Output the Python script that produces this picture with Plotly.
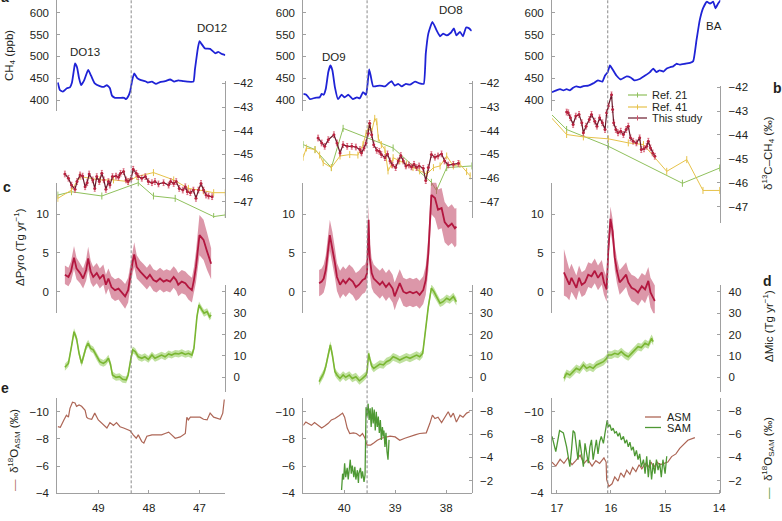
import plotly.graph_objects as go

# ======================= DATA (ages in ka BP) =======================
# ---- Column 1: DO13 - DO12 ----
c1_ch4_age = [49.80, 49.76, 49.70, 49.62, 49.56, 49.52, 49.48, 49.46, 49.42, 49.38, 49.34, 49.28, 49.20, 49.14, 49.07,
              48.97, 48.89, 48.83, 48.77, 48.73, 48.67, 48.57, 48.49, 48.45, 48.41, 48.37, 48.33, 48.29, 48.23, 48.17,
              48.07, 48.02, 47.94, 47.86, 47.78, 47.68, 47.58, 47.50, 47.42, 47.32, 47.24, 47.12, 47.09, 47.03, 47.00,
              46.97, 46.89, 46.79, 46.69, 46.63, 46.55, 46.49]
c1_ch4 = [440, 423, 419, 427, 429, 440, 470, 484, 475, 450, 434, 445, 469, 455, 438,
          432, 430, 434, 427, 410, 405, 405, 405, 402, 408, 420, 445, 461, 450, 446,
          443, 440, 442, 437, 441, 443, 447, 442, 445, 443, 442, 442, 470, 520, 535,
          530, 518, 517, 507, 510, 505, 503]

c1_r21_age = [49.80, 49.53, 48.93, 48.21, 47.91, 47.48, 46.72, 46.49]
c1_r21 = [-46.72, -46.58, -46.76, -46.20, -46.76, -46.86, -47.63, -47.56]
c1_r41_age = [49.80, 49.53, 49.36, 48.97, 48.70, 48.41, 48.24, 47.91, 47.51, 47.22, 46.92, 46.72, 46.49]
c1_r41 = [-46.86, -46.51, -45.94, -46.08, -46.08, -46.15, -45.94, -45.77, -46.08, -46.44, -46.54, -46.62, -46.62]
c1_this_age = [49.66, 49.59, 49.53, 49.46, 49.42, 49.36, 49.31, 49.26, 49.22, 49.18, 49.11, 49.07, 49.03, 48.98, 48.93,
               48.89, 48.85, 48.80, 48.77, 48.72, 48.65, 48.60, 48.56, 48.50, 48.45, 48.41, 48.35, 48.31, 48.25, 48.21,
               48.14, 48.07, 48.01, 47.94, 47.88, 47.81, 47.71, 47.61, 47.57, 47.51, 47.46, 47.40, 47.33, 47.28, 47.24,
               47.18, 47.12, 47.07, 47.02, 46.97, 46.92, 46.87, 46.82, 46.75]
c1_this = [-45.83, -46.01, -46.30, -46.48, -46.15, -45.87, -45.92, -46.37, -46.20, -45.83, -46.08, -46.44, -45.94, -46.15, -45.80,
           -46.08, -46.48, -46.15, -46.30, -45.94, -45.92, -45.97, -45.80, -45.73, -46.08, -46.15, -46.01, -45.63, -45.80, -45.94,
           -46.01, -45.94, -46.15, -46.20, -46.15, -46.25, -46.20, -46.30, -46.15, -46.23, -46.15, -46.44, -46.51, -46.37, -46.58,
           -46.62, -46.51, -46.86, -46.51, -46.23, -46.51, -46.72, -46.76, -46.79]

c1_pyro_age = [49.66, 49.59, 49.54, 49.48, 49.43, 49.36, 49.30, 49.24, 49.20, 49.15, 49.10, 49.03, 48.97, 48.90, 48.85,
               48.80, 48.74, 48.67, 48.60, 48.54, 48.47, 48.41, 48.36, 48.32, 48.29, 48.24, 48.17, 48.11, 48.04, 47.98,
               47.91, 47.85, 47.78, 47.71, 47.65, 47.58, 47.51, 47.46, 47.42, 47.35, 47.28, 47.22, 47.15, 47.11, 47.07,
               47.00, 46.92, 46.85, 46.77]
c1_pyro = [2.2, 1.9, 2.6, 4.4, 3.0, 2.4, 1.7, 2.8, 4.3, 2.6, 1.9, 2.4, 1.7, 2.2, 0.9,
           1.7, 0.6, 0.2, 0.4, 0.0, -0.6, 0.2, 2.4, 3.9, 4.8, 3.2, 2.6, 2.2, 1.7, 2.2,
           1.5, 1.3, 1.7, 1.3, 1.5, 1.3, 1.9, 1.5, 0.9, 1.3, 1.1, 0.6, 0.2, 1.5, 3.2,
           7.3, 6.7, 5.2, 3.6]
c1_pyro_err = [1.2, 1.2, 1.3, 1.5, 1.4, 1.3, 1.3, 1.4, 1.5, 1.4, 1.3, 1.3, 1.3, 1.3, 1.3,
               1.3, 1.4, 1.4, 1.4, 1.5, 1.6, 1.6, 1.5, 1.5, 1.6, 1.5, 1.4, 1.4, 1.4, 1.4,
               1.4, 1.4, 1.4, 1.4, 1.4, 1.4, 1.4, 1.4, 1.5, 1.5, 1.5, 1.6, 1.6, 1.7, 2.0,
               2.6, 2.6, 2.4, 2.0]

c1_mic_age = [49.66, 49.59, 49.53, 49.48, 49.43, 49.38, 49.33, 49.28, 49.24, 49.20, 49.15, 49.10, 49.03, 48.97, 48.90,
              48.85, 48.80, 48.76, 48.72, 48.65, 48.58, 48.52, 48.45, 48.41, 48.36, 48.32, 48.27, 48.21, 48.14, 48.08,
              48.01, 47.94, 47.88, 47.81, 47.75, 47.68, 47.61, 47.55, 47.48, 47.41, 47.35, 47.28, 47.22, 47.15, 47.11,
              47.05, 47.01, 46.95, 46.91, 46.85, 46.80, 46.77]
c1_mic = [4.7, 6.5, 14.3, 21.3, 18.2, 11.2, 6.5, 11.2, 14.3, 15.9, 13.5, 12.8, 9.6, 7.3, 6.5,
          7.3, 8.9, 6.2, 1.1, 0.0, 0.3, -0.9, -1.2, 1.1, 8.1, 12.8, 12.0, 9.6, 8.9, 9.6,
          8.4, 10.4, 8.9, 9.6, 10.4, 9.6, 10.9, 10.4, 11.2, 10.9, 11.5, 10.7, 11.2, 10.4, 13.5,
          28.3, 33.8, 31.4, 29.9, 30.7, 28.3, 29.1]
c1_mic_err = 1.6

c1_asm_age = [49.80, 49.75, 49.68, 49.63, 49.59, 49.56, 49.51, 49.46, 49.43, 49.38, 49.33, 49.26, 49.23, 49.20, 49.13,
              49.07, 49.00, 48.93, 48.87, 48.83, 48.77, 48.70, 48.64, 48.57, 48.50, 48.44, 48.37, 48.31, 48.25, 48.21,
              48.14, 48.10, 48.04, 47.94, 47.84, 47.75, 47.68, 47.61, 47.55, 47.48, 47.38, 47.28, 47.25, 47.22, 47.18,
              47.09, 46.99, 46.92, 46.85, 46.79, 46.72, 46.59, 46.54, 46.51]
c1_asm = [-8.9, -8.85, -9.4, -9.75, -9.6, -10.25, -10.7, -10.65, -10.4, -10.5, -10.4, -10.1, -9.6, -9.5, -9.45,
          -9.9, -9.4, -9.15, -9.0, -8.8, -9.2, -9.0, -9.2, -8.9, -8.8, -8.7, -8.6, -8.3, -8.05, -8.3,
          -7.8, -7.7, -8.2, -8.3, -8.3, -8.3, -8.4, -8.5, -8.3, -8.05, -8.15, -8.4, -9.6, -9.4, -9.6,
          -9.6, -9.6, -9.45, -9.4, -9.9, -9.6, -9.45, -9.9, -10.9]

# ---- Column 2: DO9 - DO8 ----
c2_ch4_age = [40.80, 40.74, 40.67, 40.57, 40.48, 40.44, 40.40, 40.36, 40.31, 40.27, 40.23, 40.18, 40.12, 40.05, 39.99,
              39.92, 39.83, 39.75, 39.69, 39.63, 39.57, 39.54, 39.51, 39.48, 39.43, 39.30, 39.20, 39.14, 39.07, 39.01,
              38.94, 38.87, 38.79, 38.71, 38.61, 38.52, 38.44, 38.40, 38.35, 38.27, 38.19, 38.12, 38.06, 37.99, 37.91,
              37.85, 37.80, 37.73, 37.67, 37.61, 37.55, 37.50]
c2_ch4 = [414, 412, 402, 405, 406, 414, 412, 425, 464, 479, 468, 429, 402, 412, 406,
          412, 402, 406, 404, 418, 412, 437, 470, 456, 431, 433, 431, 437, 443, 433,
          437, 431, 437, 435, 442, 438, 437, 506, 552, 579, 560, 546, 552, 548, 554,
          564, 548, 556, 546, 566, 564, 558]

c2_r21_age = [40.80, 40.57, 40.25, 40.02, 39.04, 38.29, 38.19, 37.99, 37.50]
c2_r21 = [-44.59, -44.80, -45.56, -43.90, -44.73, -46.18, -46.53, -45.56, -45.49]
c2_r41_age = [40.80, 40.74, 40.57, 40.48, 40.41, 40.25, 40.08, 39.89, 39.73, 39.63, 39.57, 39.53, 39.46, 39.40, 39.36,
              39.33, 39.27, 39.20, 39.14, 39.07, 39.04, 38.91, 38.78, 38.65, 38.52, 38.38, 38.25, 38.12, 37.99, 37.86,
              37.73, 37.60, 37.53]
c2_r41 = [-45.12, -44.73, -44.80, -45.03, -45.35, -45.56, -45.07, -45.01, -45.03, -44.59, -44.11, -43.90, -44.04, -43.48, -43.62,
          -44.31, -44.59, -44.80, -45.70, -45.42, -45.14, -45.28, -45.42, -45.56, -45.70, -45.84, -45.56, -45.49, -45.07, -45.49,
          -45.42, -45.73, -45.91]
c2_this_age = [40.51, 40.44, 40.38, 40.31, 40.20, 40.14, 40.08, 40.02, 39.94, 39.85, 39.77, 39.69, 39.66, 39.61, 39.57,
               39.53, 39.50, 39.46, 39.42, 39.36, 39.31, 39.27, 39.20, 39.15, 39.10, 39.05, 38.99, 38.94, 38.89, 38.84,
               38.79, 38.73, 38.68, 38.63, 38.58, 38.53, 38.45, 38.40, 38.35, 38.29, 38.22, 38.16, 38.09, 38.03, 37.96,
               37.86, 37.76]
c2_this = [-44.31, -44.52, -44.66, -44.38, -44.17, -44.52, -44.94, -44.59, -44.66, -44.66, -44.69, -44.80, -44.94, -44.73, -44.52,
           -44.11, -43.69, -44.17, -44.59, -44.83, -44.87, -45.01, -45.14, -44.98, -45.28, -45.45, -45.56, -45.28, -45.05, -45.28,
           -45.49, -45.45, -45.53, -45.42, -45.56, -45.49, -45.59, -46.11, -45.56, -45.01, -45.12, -45.07, -44.98, -45.28, -45.45,
           -45.42, -45.38]

c2_pyro_age = [40.49, 40.44, 40.40, 40.36, 40.28, 40.23, 40.18, 40.14, 40.08, 40.02, 39.97, 39.90, 39.83, 39.77, 39.71,
               39.64, 39.59, 39.55, 39.52, 39.50, 39.46, 39.42, 39.36, 39.30, 39.25, 39.18, 39.12, 39.05, 39.01, 38.96,
               38.91, 38.84, 38.78, 38.71, 38.65, 38.58, 38.52, 38.45, 38.40, 38.35, 38.29, 38.22, 38.16, 38.09, 38.03,
               37.96, 37.89, 37.83, 37.80]
c2_pyro = [1.1, 1.3, 1.7, 2.8, 7.3, 5.7, 3.7, 1.9, 0.9, 1.5, 1.1, 1.7, 1.3, 0.6, 0.9,
           1.5, 1.7, 2.4, 9.3, 4.5, 2.4, 1.7, 1.3, 0.9, 1.3, 0.6, 1.1, 0.4, -0.6, 0.4,
           1.1, 0.0, -0.2, 0.0, -0.2, 0.0, -0.4, 0.2, 1.5, 4.9, 12.5, 12.1, 10.6, 10.8, 9.0,
           8.4, 8.8, 8.2, 8.4]
c2_pyro_err = [1.7, 1.7, 1.8, 1.9, 2.0, 2.0, 1.9, 1.8, 1.8, 1.8, 1.8, 1.8, 1.8, 1.8, 1.8,
               1.8, 1.8, 1.9, 2.0, 2.0, 1.9, 1.8, 1.8, 1.8, 1.8, 1.8, 1.8, 1.8, 1.8, 1.8,
               1.8, 1.8, 1.8, 1.8, 1.8, 1.8, 1.8, 1.8, 1.9, 2.2, 2.5, 2.6, 2.6, 2.6, 2.6,
               2.5, 2.5, 2.5, 2.4]

c2_mic_age = [40.49, 40.44, 40.40, 40.36, 40.31, 40.27, 40.23, 40.18, 40.14, 40.08, 40.02, 39.97, 39.90, 39.84, 39.77,
              39.70, 39.64, 39.57, 39.55, 39.52, 39.50, 39.46, 39.42, 39.36, 39.30, 39.23, 39.17, 39.10, 39.04, 38.97,
              38.91, 38.84, 38.78, 38.71, 38.65, 38.58, 38.52, 38.46, 38.42, 38.35, 38.29, 38.24, 38.19, 38.12, 38.06,
              37.99, 37.93, 37.86, 37.80]
c2_mic = [-2.0, 0.3, 1.9, 5.0, 11.2, 15.1, 10.4, 2.6, 1.1, -0.5, 1.1, 0.0, 1.1, -0.5, 0.3,
          -1.6, -0.5, 1.1, 2.6, 11.2, 8.9, 5.3, 4.2, 5.3, 6.2, 5.8, 7.3, 8.1, 9.6, 8.9,
          8.1, 8.9, 9.6, 8.9, 9.6, 10.4, 9.6, 11.2, 19.0, 33.0, 41.6, 40.0, 37.7, 34.6, 35.3,
          36.9, 36.1, 37.7, 35.3]
c2_mic_err = 1.8

c2_asm_age = [40.80, 40.75, 40.71, 40.64, 40.58, 40.51, 40.44, 40.38, 40.31, 40.25, 40.18, 40.10, 40.03, 39.99, 39.94,
              39.89, 39.82, 39.76, 39.69, 39.64, 39.59, 39.55, 39.48, 39.42, 39.35, 39.27, 39.18, 39.10, 39.00, 38.91,
              38.81, 38.71, 38.61, 38.52, 38.45, 38.39, 38.32, 38.27, 38.22, 38.16, 38.09, 38.03, 37.96, 37.91, 37.86,
              37.80, 37.73, 37.67, 37.60, 37.54]
c2_asm = [-9.0, -9.25, -9.15, -9.0, -9.2, -9.0, -8.8, -8.95, -9.15, -9.4, -9.5, -9.7, -9.9, -9.6, -8.8,
          -8.4, -8.45, -8.4, -8.2, -8.4, -8.05, -7.55, -7.55, -7.7, -7.9, -8.05, -8.15, -8.2, -8.15, -7.9,
          -8.05, -8.2, -8.3, -8.4, -8.45, -8.45, -9.15, -9.75, -9.5, -9.6, -9.2, -9.6, -10.0, -9.6, -9.9,
          -9.25, -9.75, -9.6, -9.9, -10.0]
c2_sam_age = [40.05, 40.03, 40.01, 39.99, 39.97, 39.94, 39.92, 39.90, 39.88, 39.86, 39.84, 39.81, 39.79, 39.77, 39.74,
              39.72, 39.71, 39.68, 39.66, 39.64, 39.61, 39.59, 39.58, 39.57, 39.55, 39.53, 39.51, 39.49, 39.47, 39.45,
              39.43, 39.41, 39.39, 39.37, 39.35, 39.33, 39.31, 39.29, 39.27, 39.25, 39.23, 39.22, 39.20, 39.18, 39.16,
              39.14, 39.12]
c2_sam = [-1.2, -2.6, -2.1, -3.5, -2.3, -3.1, -2.1, -2.9, -3.8, -2.6, -3.3, -2.3, -3.2, -2.1, -2.9,
          -1.8, -2.6, -3.1, -2.2, -2.8, -1.9, -2.5, -4.9, -8.3, -7.5, -8.6, -7.2, -8.2, -6.6, -8.3,
          -6.9, -8.1, -6.3, -7.9, -6.6, -7.5, -6.1, -7.2, -5.5, -6.6, -5.8, -6.3, -4.9, -6.1, -4.5,
          -3.8, -5.5]

# ---- Column 3: HS1 - Bolling-Allerod ----
c3_ch4_age = [17.09, 17.01, 16.94, 16.88, 16.82, 16.76, 16.70, 16.64, 16.57, 16.51, 16.42, 16.33, 16.24, 16.16, 16.11,
              16.06, 16.02, 15.96, 15.90, 15.82, 15.71, 15.63, 15.57, 15.47, 15.37, 15.28, 15.22, 15.16, 15.10, 15.03,
              14.97, 14.91, 14.85, 14.79, 14.73, 14.63, 14.54, 14.48, 14.42, 14.36, 14.30, 14.23, 14.17, 14.11, 14.07,
              14.02, 13.97]
c3_ch4 = [418, 422, 425, 422, 425, 422, 428, 431, 429, 432, 433, 438, 445, 442, 456,
          464, 479, 468, 456, 447, 454, 451, 445, 448, 456, 464, 472, 464, 468, 465,
          472, 475, 477, 483, 481, 483, 485, 489, 537, 583, 610, 625, 621, 625, 610,
          621, 629]

c3_r21_age = [17.10, 16.82, 16.05, 14.68, 13.99]
c3_r21 = [-43.14, -43.77, -44.47, -46.02, -45.38]
c3_r41_age = [17.10, 16.82, 16.51, 16.05, 15.68, 15.40, 14.97, 14.60, 14.30, 13.99]
c3_r41 = [-43.28, -43.98, -44.08, -44.16, -44.33, -44.40, -45.52, -45.03, -46.32, -46.32]
c3_this_age = [16.82, 16.79, 16.75, 16.70, 16.65, 16.59, 16.54, 16.51, 16.46, 16.40, 16.36, 16.30, 16.26, 16.21, 16.16,
               16.11, 16.08, 16.05, 15.99, 15.97, 15.95, 15.91, 15.87, 15.82, 15.77, 15.72, 15.68, 15.64, 15.59, 15.53,
               15.47, 15.44, 15.39, 15.34, 15.31, 15.27, 15.23, 15.19]
c3_this = [-43.04, -43.07, -43.28, -43.56, -43.21, -43.14, -43.49, -43.91, -43.63, -43.35, -43.14, -43.42, -43.63, -43.28, -43.49,
           -43.77, -43.07, -42.79, -42.32, -42.93, -43.49, -43.77, -43.91, -43.84, -43.98, -43.77, -43.63, -44.12, -44.26, -44.33,
           -44.12, -44.61, -44.58, -44.47, -44.26, -44.54, -44.75, -44.89]

c3_pyro_age = [16.87, 16.82, 16.77, 16.73, 16.69, 16.64, 16.59, 16.54, 16.48, 16.42, 16.36, 16.30, 16.24, 16.17, 16.13,
               16.08, 16.05, 16.01, 15.97, 15.93, 15.89, 15.84, 15.79, 15.72, 15.68, 15.62, 15.56, 15.50, 15.43, 15.37,
               15.31, 15.27, 15.22, 15.19]
c3_pyro = [2.5, 1.8, 0.9, 1.8, 1.2, 0.5, 1.8, 0.9, 1.2, 2.2, 2.0, 2.7, 1.8, 2.5, 1.2,
           0.3, 5.3, 9.4, 7.8, 4.4, 2.7, 1.2, 1.6, 2.2, 1.2, 0.5, 0.3, -0.1, 0.7, 0.3,
           1.4, -0.1, -0.8, -1.2]
c3_pyro_err = [3.0, 2.5, 2.0, 1.8, 1.7, 1.6, 1.6, 1.6, 1.6, 1.6, 1.6, 1.6, 1.6, 1.6, 1.6,
               1.6, 1.6, 1.6, 1.6, 1.6, 1.6, 1.6, 1.6, 1.6, 1.6, 1.7, 1.7, 1.7, 1.7, 1.8,
               1.8, 1.9, 2.0, 2.0]

c3_mic_age = [16.87, 16.82, 16.76, 16.70, 16.64, 16.58, 16.51, 16.45, 16.39, 16.33, 16.27, 16.21, 16.14, 16.08, 16.05,
              15.99, 15.93, 15.87, 15.81, 15.74, 15.68, 15.62, 15.56, 15.50, 15.44, 15.37, 15.31, 15.25, 15.22]
c3_mic = [-0.5, 1.9, 1.1, 2.6, 4.2, 3.4, 5.8, 4.2, 5.0, 4.2, 5.8, 6.5, 7.3, 8.9, 10.4,
          10.4, 11.2, 10.7, 12.0, 10.4, 9.6, 11.2, 12.8, 14.3, 13.9, 15.9, 15.1, 18.2, 16.7]
c3_mic_err = 1.8

c3_asm_age = [17.09, 17.02, 16.94, 16.87, 16.80, 16.72, 16.65, 16.57, 16.50, 16.43, 16.35, 16.28, 16.21, 16.13, 16.09,
              16.08, 16.04, 15.98, 15.93, 15.87, 15.82, 15.76, 15.71, 15.65, 15.60, 15.54, 15.48, 15.43, 15.37, 15.32,
              15.26, 15.21, 15.15, 15.10, 15.02, 14.95, 14.88, 14.80, 14.73, 14.65, 14.58, 14.45]
c3_asm = [-6.3, -6.0, -6.5, -6.2, -6.6, -6.1, -6.4, -6.8, -6.2, -6.5, -6.0, -6.4, -6.2, -6.6, -6.3,
          -5.0, -4.5, -4.7, -5.2, -4.9, -5.5, -5.2, -5.7, -5.4, -5.9, -5.6, -6.1, -5.8, -6.2, -5.9,
          -6.3, -5.9, -6.3, -6.1, -6.2, -6.3, -6.7, -6.9, -7.3, -7.6, -7.9, -8.1]
c3_sam_age = [17.09, 17.02, 16.95, 16.88, 16.82, 16.76, 16.73, 16.70, 16.67, 16.64, 16.61, 16.58, 16.54, 16.51, 16.48,
              16.45, 16.42, 16.39, 16.36, 16.33, 16.30, 16.27, 16.24, 16.21, 16.18, 16.14, 16.11, 16.09, 16.07, 16.05,
              16.02, 15.99, 15.96, 15.93, 15.90, 15.87, 15.84, 15.81, 15.77, 15.74, 15.71, 15.68, 15.65, 15.62, 15.59,
              15.56, 15.53, 15.50, 15.47, 15.44, 15.40, 15.37, 15.34, 15.31, 15.28, 15.25, 15.22, 15.19, 15.16, 15.13,
              15.10, 15.07, 15.04, 15.00, 14.97]
c3_sam = [-5.8, -4.5, -6.3, -6.1, -4.9, -3.2, -4.6, -6.3, -6.1, -4.9, -3.8, -5.5, -4.1, -3.2, -5.2,
          -4.3, -3.5, -4.9, -5.5, -3.8, -4.9, -5.5, -4.3, -5.3, -5.8, -5.2, -6.1, -6.9, -7.2, -6.6,
          -6.8, -6.3, -6.5, -6.1, -6.2, -5.8, -6.1, -5.5, -5.8, -5.2, -5.5, -4.9, -5.3, -4.6, -4.9,
          -4.1, -4.6, -3.8, -4.3, -3.2, -3.8, -2.6, -4.1, -2.3, -3.8, -2.1, -3.5, -2.6, -3.8, -2.9,
          -3.5, -2.3, -3.8, -2.6, -4.1]

# ---- ticks / events ----
x_ticks = [[49, 48, 47], [40, 39, 38], [17, 16, 15, 14]]
ch4_ticks = [400, 450, 500, 550, 600]
d13c_ticks = [-47, -46, -45, -44, -43, -42]
pyro_ticks = [0, 5, 10]
mic_ticks = [0, 10, 20, 30, 40]
asm_ticks = [-10, -8, -6, -4]
sam_ticks = [-8, -6, -4, -2]
heinrich_age = [48.35, 39.55, 16.06]
event_names = ["DO13", "DO12", "DO9", "DO8", "BA"]

# ======================= STYLE / LAYOUT =======================
W, H = 782, 521
FONT = "Liberation Sans, Arial, Helvetica, sans-serif"
TXT = "#231f20"
AXC = "#a0a0a0"
FS = 11.5
C_CH4 = "#1f23d6"
C_THIS_LINE = "#6a1a2c"
C_THIS_MK = "#d4506a"
C_R21 = "#8fc05c"
C_R41 = "#e6c24a"
C_PYRO = "#b3173f"
C_PYRO_BAND = "rgba(196,82,112,0.6)"
C_MIC = "#7ab632"
C_MIC_BAND = "rgba(140,200,80,0.55)"
C_ASM = "#ad6656"
C_SAM = "#4e9834"


def px(x):
    return x / W


def py(y):
    return 1 - y / H


def fmt(v):
    return f"{v:g}".replace("-", "\u2212")


def yid(n):
    return "y" if n == 1 else f"y{n}"


def ykey(n):
    return "yaxis" if n == 1 else f"yaxis{n}"


COLS = [
    dict(ch4=(c1_ch4_age, c1_ch4), r21=(c1_r21_age, c1_r21), r41=(c1_r41_age, c1_r41),
         this=(c1_this_age, c1_this), pyro=(c1_pyro_age, c1_pyro, c1_pyro_err),
         mic=(c1_mic_age, c1_mic, c1_mic_err), asm=(c1_asm_age, c1_asm), sam=None),
    dict(ch4=(c2_ch4_age, c2_ch4), r21=(c2_r21_age, c2_r21), r41=(c2_r41_age, c2_r41),
         this=(c2_this_age, c2_this), pyro=(c2_pyro_age, c2_pyro, c2_pyro_err),
         mic=(c2_mic_age, c2_mic, c2_mic_err), asm=(c2_asm_age, c2_asm), sam=(c2_sam_age, c2_sam)),
    dict(ch4=(c3_ch4_age, c3_ch4), r21=(c3_r21_age, c3_r21), r41=(c3_r41_age, c3_r41),
         this=(c3_this_age, c3_this), pyro=(c3_pyro_age, c3_pyro, c3_pyro_err),
         mic=(c3_mic_age, c3_mic, c3_mic_err), asm=(c3_asm_age, c3_asm), sam=(c3_sam_age, c3_sam)),
]

GEOM = [
    dict(x0=57.3, x1=225.3, xr=[49.81, 46.49], b=(81, 218), brng=[-47.69, -41.9]),
    dict(x0=303.3, x1=471.7, xr=[40.80, 37.50], b=(81, 218), brng=[-47.69, -41.9]),
    dict(x0=552.0, x1=720.3, xr=[17.09, 13.98], b=(86, 222.7), brng=[-47.67, -41.95]),
]

EVENT_POS = [(0, 49.26, 510), (0, 46.75, 565), (1, 40.20, 498), (1, 37.91, 606), (2, 14.10, 569)]


def axis_common(tickvals, standoff=5):
    return dict(showline=True, linecolor=AXC, linewidth=1, ticks="inside", ticklen=3, tickwidth=1,
                tickcolor=AXC, tickmode="array", tickvals=tickvals, ticktext=[fmt(v) for v in tickvals],
                tickfont=dict(family=FONT, size=FS, color=TXT), showgrid=False, zeroline=False,
                ticklabelstandoff=standoff, fixedrange=True)


fig = go.Figure()
layout = dict(width=W, height=H, autosize=False, margin=dict(l=0, r=0, t=0, b=0),
              paper_bgcolor="white", plot_bgcolor="rgba(0,0,0,0)", showlegend=False,
              template="none", font=dict(family=FONT, size=FS, color=TXT))
shapes = []
annotations = []

for i, (d, g) in enumerate(zip(COLS, GEOM)):
    xid = "x" if i == 0 else f"x{i + 1}"
    xkey = "xaxis" if i == 0 else f"xaxis{i + 1}"
    n = [6 * i + k for k in range(1, 7)]
    y_ch4, y_d13, y_pyro, y_mic, y_asm, y_sam = [yid(k) for k in n]

    layout[xkey] = dict(axis_common(x_ticks[i], 4), domain=[px(g["x0"]), px(g["x1"])],
                        range=g["xr"], anchor=y_asm)
    layout[ykey(n[0])] = dict(axis_common(ch4_ticks), domain=[py(110.7), py(0)],
                              range=[375.5, 629], anchor=xid, side="left")
    layout[ykey(n[1])] = dict(axis_common(d13c_ticks), domain=[py(g["b"][1]), py(g["b"][0])],
                              range=g["brng"], anchor=xid, side="right")
    layout[ykey(n[2])] = dict(axis_common(pyro_ticks), domain=[py(313.3), py(182.7)],
                              range=[-2.79, 14.08], anchor=xid, side="left")
    layout[ykey(n[3])] = dict(axis_common(mic_ticks), domain=[py(391.7), py(285)],
                              range=[-6.7, 43.1], anchor=xid, side="right")
    layout[ykey(n[4])] = dict(axis_common(asm_ticks), domain=[py(493.3), py(398.3)],
                              range=[-4.0, -10.99], anchor=xid, side="left")
    layout[ykey(n[5])] = dict(axis_common(sam_ticks), domain=[py(493.3), py(398.3)],
                              range=[-0.92, -9.06], anchor=xid, side="right")

    # CH4
    fig.add_trace(go.Scatter(x=d["ch4"][0], y=d["ch4"][1], mode="lines", xaxis=xid, yaxis=y_ch4,
                             line=dict(color=C_CH4, width=1.8, shape="spline", smoothing=0.4)))
    # d13C references + this study
    fig.add_trace(go.Scatter(x=d["r21"][0], y=d["r21"][1], mode="lines+markers", xaxis=xid, yaxis=y_d13,
                             line=dict(color=C_R21, width=1),
                             marker=dict(symbol="line-ns", size=5, line=dict(color=C_R21, width=1))))
    fig.add_trace(go.Scatter(x=d["r41"][0], y=d["r41"][1], mode="lines+markers", xaxis=xid, yaxis=y_d13,
                             line=dict(color=C_R41, width=1),
                             marker=dict(symbol="line-ns", size=5, line=dict(color=C_R41, width=1))))
    fig.add_trace(go.Scatter(x=d["this"][0], y=d["this"][1], mode="lines+markers", xaxis=xid, yaxis=y_d13,
                             line=dict(color=C_THIS_LINE, width=1.2),
                             marker=dict(color="#b8233f", size=3),
                             error_y=dict(type="constant", value=0.12, color=C_THIS_MK, thickness=0.8, width=1)))
    # Pyro band + line
    a, v, e = d["pyro"]
    up = [vv + ee for vv, ee in zip(v, e)]
    lo = [vv - ee for vv, ee in zip(v, e)]
    fig.add_trace(go.Scatter(x=list(a) + list(a)[::-1], y=up + lo[::-1], mode="lines", fill="toself",
                             fillcolor=C_PYRO_BAND, line=dict(width=0), xaxis=xid, yaxis=y_pyro,
                             hoverinfo="skip"))
    fig.add_trace(go.Scatter(x=a, y=v, mode="lines", xaxis=xid, yaxis=y_pyro,
                             line=dict(color=C_PYRO, width=1.8)))
    # Mic band + line
    a, v, e = d["mic"]
    up = [vv + e for vv in v]
    lo = [vv - e for vv in v]
    fig.add_trace(go.Scatter(x=list(a) + list(a)[::-1], y=up + lo[::-1], mode="lines", fill="toself",
                             fillcolor=C_MIC_BAND, line=dict(width=0), xaxis=xid, yaxis=y_mic,
                             hoverinfo="skip"))
    fig.add_trace(go.Scatter(x=a, y=v, mode="lines", xaxis=xid, yaxis=y_mic,
                             line=dict(color=C_MIC, width=1.6)))
    # d18O
    fig.add_trace(go.Scatter(x=d["asm"][0], y=d["asm"][1], mode="lines", xaxis=xid, yaxis=y_asm,
                             line=dict(color=C_ASM, width=1.2)))
    if d["sam"] is not None:
        fig.add_trace(go.Scatter(x=d["sam"][0], y=d["sam"][1], mode="lines", xaxis=xid, yaxis=y_sam,
                                 line=dict(color=C_SAM, width=1.3)))

    # Heinrich dashed line
    shapes.append(dict(type="line", xref=xid, yref="paper", x0=heinrich_age[i], x1=heinrich_age[i],
                       y0=py(493.3), y1=1.0, line=dict(color="#8a8a8a", width=1, dash="3px,2px")))

# event labels
for name, (ci, ex, ey) in zip(event_names, EVENT_POS):
    annotations.append(dict(text=name, xref="x" if ci == 0 else f"x{ci + 1}", yref=yid(6 * ci + 1),
                            x=ex, y=ey, showarrow=False, font=dict(family=FONT, size=FS, color=TXT)))


def ann(text, x, y, angle=0, size=FS, xanchor="center", color=TXT):
    annotations.append(dict(text=text, xref="paper", yref="paper", x=px(x), y=py(y), textangle=angle,
                            showarrow=False, xanchor=xanchor, yanchor="middle",
                            font=dict(family=FONT, size=size, color=color)))


# axis titles
ann("CH<sub>4</sub> (ppb)", 10, 56, -90)
ann("\u0394Pyro (Tg yr<sup>\u22121</sup>)", 19, 247, -90)
ann(f'<span style="color:{C_ASM}">\u2014</span>  \u03b4<sup>18</sup>O<sub>ASM</sub> (\u2030)', 14, 450, -90)
ann("\u03b4<sup>13</sup>C\u2013CH<sub>4</sub> (\u2030)", 768, 153, -90)
ann("\u0394Mic (Tg yr<sup>\u22121</sup>)", 768, 326, -90)
ann(f'<span style="color:{C_SAM}">\u2014</span>  \u03b4<sup>18</sup>O<sub>SAM</sub> (\u2030)', 768, 458, -90)

# panel letters
for letter, lx, ly in [("a", 5, -3), ("b", 777, 88), ("c", 7, 187), ("d", 767, 281), ("e", 5, 388)]:
    ann(f"<b>{letter}</b>", lx, ly, 0, 14)

# legend for d13C (column 3)
for label, col, ly in [("Ref. 21", C_R21, 95), ("Ref. 41", C_R41, 107), ("This study", C_THIS_LINE, 118)]:
    shapes.append(dict(type="line", xref="paper", yref="paper", x0=px(628), x1=px(647), y0=py(ly), y1=py(ly),
                       line=dict(color=col, width=1.2)))
    shapes.append(dict(type="line", xref="paper", yref="paper", x0=px(637.5), x1=px(637.5),
                       y0=py(ly - 2.5), y1=py(ly + 2.5),
                       line=dict(color=C_THIS_MK if label == "This study" else col, width=1)))
    ann(label, 650, ly, 0, 11, "left")

# legend for d18O (column 3)
for label, col, ly in [("ASM", C_ASM, 417), ("SAM", C_SAM, 427.5)]:
    shapes.append(dict(type="line", xref="paper", yref="paper", x0=px(645), x1=px(661), y0=py(ly), y1=py(ly),
                       line=dict(color=col, width=1.3)))
    ann(label, 665, ly, 0, 11, "left")

layout["shapes"] = shapes
layout["annotations"] = annotations
fig.update_layout(**layout)
fig.write_html("out.html", config={"displayModeBar": False},
               post_script="document.body.style.margin='0px';document.body.style.padding='0px';")
